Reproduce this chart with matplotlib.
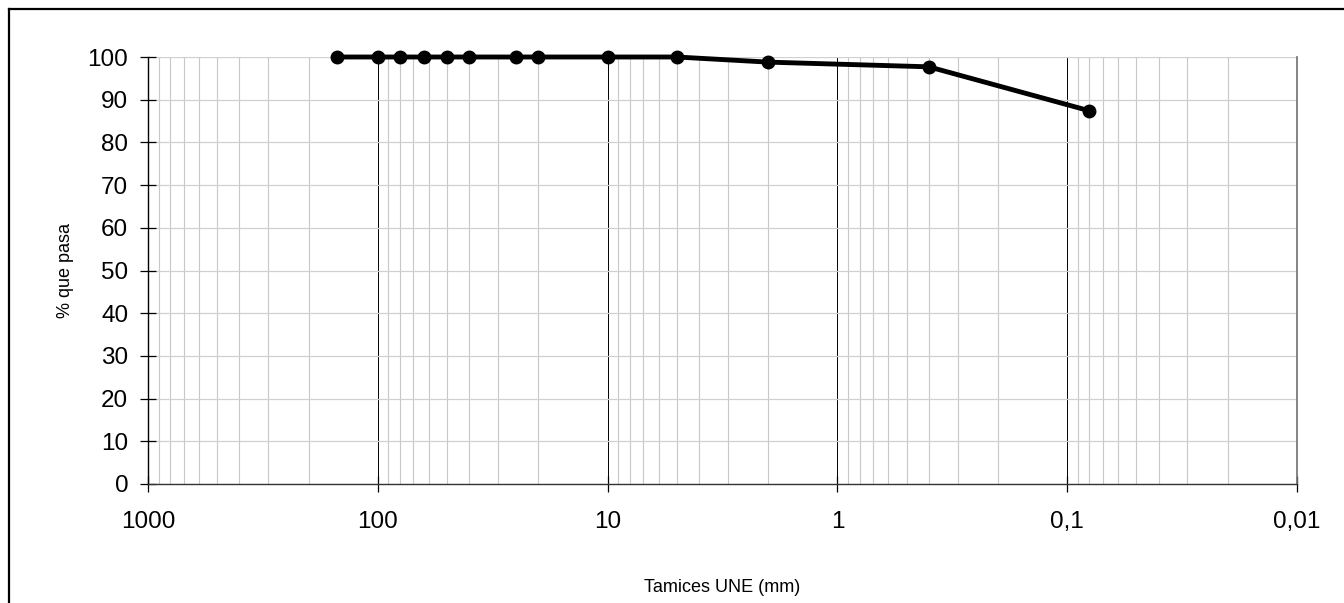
import matplotlib.pyplot as plt
from matplotlib.ticker import LogLocator, FixedLocator, NullFormatter
from matplotlib.lines import Line2D

# sieve openings (mm) and cumulative % passing
SIEVES = [150, 100, 80, 63, 50, 40, 25, 20, 10, 5, 2, 0.4, 0.08]
PASSING = [100, 100, 100, 100, 100, 100, 100, 100, 100, 100, 98.8, 97.7, 87.4]

X_TICKS = [1000, 100, 10, 1, 0.1, 0.01]
X_LABELS = ["1000", "100", "10", "1", "0,1", "0,01"]
Y_TICKS = list(range(0, 101, 10))

plt.rcParams["font.family"] = ["Liberation Sans", "DejaVu Sans"]

fig = plt.figure(figsize=(13.44, 6.03), dpi=100)
ax = fig.add_axes([148 / 1344, 1 - 484 / 603, (1297 - 148) / 1344, (484 - 57) / 603])

ax.set_xscale("log")
ax.set_xlim(1000, 0.01)
ax.set_ylim(0, 100)

ax.xaxis.set_major_locator(FixedLocator(X_TICKS))
ax.set_xticklabels(X_LABELS)
ax.xaxis.set_minor_locator(LogLocator(base=10, subs=range(2, 10), numticks=20))
ax.xaxis.set_minor_formatter(NullFormatter())
ax.set_yticks(Y_TICKS)

ax.grid(True, which="minor", axis="x", color="#c8c8c8", linewidth=0.8)
ax.grid(True, which="major", axis="x", color="black", linewidth=0.7)
ax.grid(True, which="major", axis="y", color="#d0d0d0", linewidth=0.9)
ax.set_axisbelow(True)

ax.tick_params(axis="both", which="major", direction="inout", length=11.5,
               width=0.9, labelsize=17.5, colors="black")
ax.tick_params(axis="x", which="major", pad=14)
ax.tick_params(axis="y", which="major", pad=8.5)
ax.tick_params(axis="x", which="minor", length=0)

ax.spines["top"].set_visible(False)
ax.spines["right"].set_color("#707070")
ax.spines["right"].set_linewidth(1.2)
ax.spines["left"].set_linewidth(1.0)
ax.spines["bottom"].set_linewidth(1.0)
ax.spines["bottom"].set_color("#333333")

ax.plot(SIEVES, PASSING, color="black", linewidth=3.5, marker="o",
        markersize=9, clip_on=False, zorder=5)

ax.set_ylabel("% que pasa", fontsize=13, labelpad=9.5)
ax.set_xlabel("Tamices UNE (mm)", fontsize=13, labelpad=33)

# outer frame (only left and top edges fall inside the image)
fig.add_artist(Line2D([9 / 1344, 9 / 1344], [0, 1 - 9 / 603], color="black",
                      linewidth=1.6, transform=fig.transFigure))
fig.add_artist(Line2D([9 / 1344, 1], [1 - 9 / 603, 1 - 9 / 603], color="black",
                      linewidth=1.6, transform=fig.transFigure))

fig.savefig("out.png", dpi=100)
